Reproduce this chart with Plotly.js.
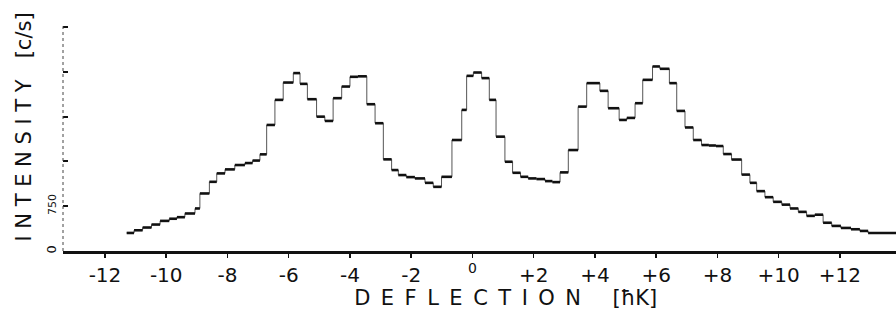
<!DOCTYPE html>
<html>
<head>
<meta charset="utf-8">
<script src="https://cdn.plot.ly/plotly-3.0.1.min.js"></script>
<style>
  html, body { margin: 0; padding: 0; background: #fff; }
  #chart { width: 896px; height: 314px; }
</style>
</head>
<body>
<div id="chart"></div>
<script>
// Left edge of each measured step (deflection, units of hbar*K)
const deflection = [
  -11.29, -11.05, -10.77, -10.48, -10.20, -9.90, -9.65, -9.39, -9.06, -8.90,
  -8.59, -8.35, -8.08, -7.76, -7.43, -7.18, -6.94, -6.72, -6.45, -6.18,
  -5.85, -5.63, -5.39, -5.09, -4.82, -4.55, -4.27, -4.00, -3.74, -3.45,
  -3.18, -2.91, -2.64, -2.42, -2.16, -1.88, -1.55, -1.28, -1.01, -0.67,
  -0.35, -0.19, 0.03, 0.30, 0.55, 0.77, 1.06, 1.31, 1.57, 1.82,
  2.09, 2.37, 2.61, 2.86, 3.13, 3.45, 3.73, 4.16, 4.43, 4.79,
  5.04, 5.31, 5.56, 5.88, 6.12, 6.43, 6.67, 6.94, 7.21, 7.48,
  7.72, 7.95, 8.19, 8.46, 8.79, 9.06, 9.28, 9.55, 9.82, 10.10,
  10.37, 10.64, 10.91, 11.18, 11.45, 11.73, 12.03, 12.36, 12.65, 12.92
];
const deflectionEnd = 14.0;

// Intensity of each step (counts per second)
const intensity = [
  302, 347, 393, 443, 504, 540, 566, 628, 712, 963,
  1158, 1299, 1366, 1439, 1472, 1514, 1618, 2110, 2530, 2820,
  2978, 2798, 2541, 2249, 2177, 2558, 2753, 2916, 2924, 2457,
  2139, 1534, 1355, 1271, 1237, 1215, 1141, 1074, 1242, 1858,
  2362, 2932, 2988, 2894, 2530, 1914, 1494, 1309, 1242, 1215,
  1204, 1170, 1153, 1316, 1690, 2417, 2810, 2681, 2390, 2194,
  2228, 2474, 2865, 3089, 3050, 2810, 2345, 2068, 1858, 1774,
  1766, 1757, 1623, 1531, 1279, 1141, 1002, 901, 823, 776,
  712, 655, 588, 608, 473, 420, 386, 364, 336, 302
];

const xTickVals = [-12, -10, -8, -6, -4, -2, 0, 2, 4, 6, 8, 10, 12];
const xTickText = ["-12", "-10", "-8", "-6", "-4", "-2", "<sup>0</sup>", "+2", "+4", "+6", "+8", "+10", "+12"];
const yTickVals = [0, 750];
const yTickText = ['<span style="font-size:13px">0</span>', "750"];
const yTickStep = 750;

// step outline (thin verticals)
const stepX = deflection.concat([deflectionEnd]);
const stepY = intensity.concat([intensity[intensity.length - 1]]);

// thick horizontal plateaus
const segX = [], segY = [];
for (let i = 0; i < deflection.length; i++) {
  const xe = i + 1 < deflection.length ? deflection[i + 1] : deflectionEnd;
  segX.push(deflection[i], xe, null);
  segY.push(intensity[i], intensity[i], null);
}

const EN = "\u2002";
const ZW = "\u200B";
const xTitle = ZW + EN.repeat(5) + "D E F L E C T I O N".split(" ").join(EN) + EN.repeat(3) + "[ħK]";
const yTitle = ZW + EN.repeat(2) + "I N T E N S I T Y" + EN + EN + "[c/s]";

const traces = [
  {
    x: stepX, y: stepY, type: "scatter", mode: "lines",
    line: { shape: "hv", color: "#555", width: 1 },
    hoverinfo: "skip", showlegend: false
  },
  {
    x: segX, y: segY, type: "scatter", mode: "lines",
    line: { color: "#111", width: 2.6 },
    connectgaps: false, showlegend: false, name: "Intensity"
  }
];

const layout = {
  width: 896, height: 314, autosize: false,
  margin: { l: 63, r: 0, t: 24, b: 63, pad: 0 },
  paper_bgcolor: "#fff", plot_bgcolor: "#fff",
  font: { family: "DejaVu Sans, sans-serif", color: "#111" },
  xaxis: {
    range: [-13.37, 13.83],
    tickvals: xTickVals, ticktext: xTickText,
    ticks: "outside", ticklen: 4, tickwidth: 1.5, tickcolor: "#111",
    ticklabelstandoff: 0,
    tickfont: { size: 20, color: "#111" },
    showline: true, linewidth: 2.5, linecolor: "#111",
    showgrid: false, zeroline: false,
    title: { text: xTitle, font: { size: 21, color: "#111" }, standoff: 0 }
  },
  yaxis: {
    range: [0, 3800],
    tickvals: yTickVals, ticktext: yTickText,
    ticks: "inside", ticklen: 5, tickwidth: 2, tickcolor: "#111",
    minor: { tick0: 0, dtick: yTickStep, ticks: "inside", ticklen: 5, tickwidth: 2, tickcolor: "#111", showgrid: false },
    tickangle: -90, ticklabelstandoff: 4,
    tickfont: { size: 11, color: "#111" },
    showline: false, showgrid: false, zeroline: false,
    title: { text: yTitle, font: { size: 21, color: "#111" }, standoff: 6 }
  },
  shapes: [
    { type: "line", xref: "paper", yref: "paper", x0: 0, x1: 0, y0: 0, y1: 0.99,
      line: { color: "#444", width: 1, dash: "dot" } }
  ]
};

Plotly.newPlot("chart", traces, layout, { staticPlot: true, displayModeBar: false });
</script>
</body>
</html>
